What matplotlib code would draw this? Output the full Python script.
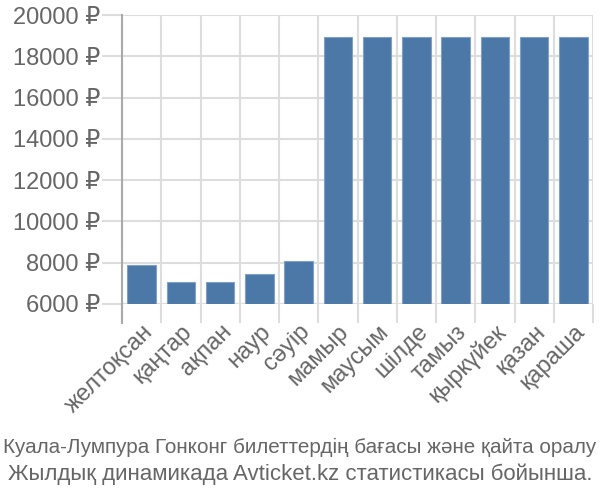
import matplotlib
matplotlib.use("Agg")
import matplotlib.pyplot as plt
import numpy as np

months = ["желтоқсан", "қаңтар", "ақпан", "наур", "сәуір", "мамыр",
          "маусым", "шілде", "тамыз", "қыркүйек", "қазан", "қараша"]
prices = [7890, 7050, 7050, 7440, 8080, 18950, 18950, 18950, 18950, 18950, 18950, 18950]
yticks = [6000, 8000, 10000, 12000, 14000, 16000, 18000, 20000]
title_lines = ["Куала-Лумпура Гонконг билеттердің бағасы және қайта оралу",
               "Жылдық динамикада Avticket.kz статистикасы бойынша."]

base = 6000
fam = ["Liberation Sans", "DejaVu Sans"]
fig = plt.figure(figsize=(6, 5), dpi=100)
ax = fig.add_axes([122/600, 1-304/500, (593-122)/600, (304-15)/500])

x = np.arange(len(months))
ax.bar(x, [p - base for p in prices], bottom=base, width=0.72,
       color="#4c78a8", edgecolor="#7f9fc6", linewidth=0.8, zorder=3)

ax.set_xlim(-0.5, len(months) - 0.5)
ax.set_ylim(base, 20000)

grid_c = "#dddddd"
ax.set_yticks(yticks)
ax.set_yticklabels([f"{v} ₽" for v in yticks], family=fam,
                   fontsize=17, color="#666666")
ax.set_xticks(x)
ax.set_xticklabels(months, rotation=45, ha="right", va="top", rotation_mode="anchor",
                   family=fam, fontsize=17, color="#666666")
ax.set_xticks(np.arange(len(months) + 1) - 0.5, minor=True)
ax.tick_params(axis="x", which="major", length=0, pad=12)
ax.tick_params(axis="x", which="minor", length=13.7, width=1.5, color=grid_c)
ax.tick_params(axis="y", length=14.4, width=1.5, color=grid_c, pad=1)

ax.grid(True, axis="y", color=grid_c, linewidth=1.5, zorder=0)
ax.grid(True, axis="x", which="minor", color=grid_c, linewidth=1.5, zorder=0)
for s in ["top", "right", "bottom"]:
    ax.spines[s].set_visible(False)
ax.spines["left"].set_color("#aaaaaa")
ax.spines["left"].set_linewidth(1.5)
ax.spines["left"].set_bounds(base, 20000)
ax.axhline(base, color=grid_c, linewidth=1.5, zorder=1)
ax.plot([-0.5, -0.5], [base, base - 19 * 14000 / 289], color="#aaaaaa", linewidth=1.5,
        clip_on=False, zorder=4)

renderer = fig.canvas.get_renderer()
for line, yc in zip(title_lines, [447, 474]):
    t = fig.text(0.5, 1 - yc/500, line, ha="center", va="center",
                 family=fam, fontsize=16, color="#666666")
    w = t.get_window_extent(renderer).width
    if w > 594:
        t.set_fontsize(16 * 594 / w)

fig.savefig("out.png", dpi=100)
